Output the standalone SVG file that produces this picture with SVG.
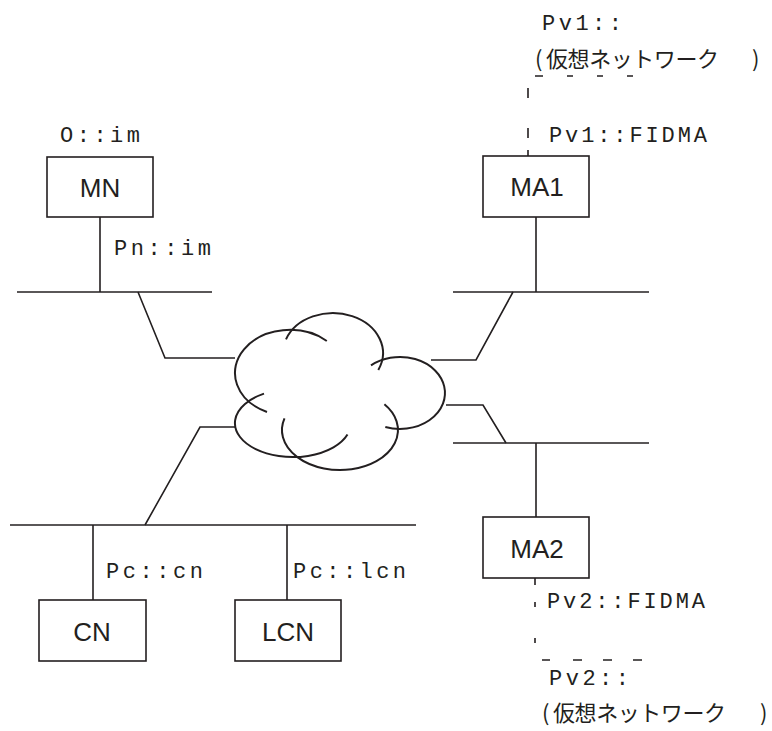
<svg xmlns="http://www.w3.org/2000/svg" width="772" height="731" viewBox="0 0 772 731">
<style>
.ln{stroke:#231f20;stroke-width:1.6;fill:none}
.bx{stroke:#231f20;stroke-width:1.6;fill:#fff}
.cl{stroke:#231f20;stroke-width:2;fill:none}
.nm{font-family:"Liberation Sans",Arial,sans-serif;font-size:26px;fill:#231f20;text-anchor:middle}
.lb{font-family:"Liberation Mono","Courier New",monospace;font-size:22px;fill:#231f20}
.jp{font-family:"Noto Sans CJK JP","Liberation Sans",sans-serif;font-size:22px;fill:#231f20}
</style>
<rect width="772" height="731" fill="#fff"/>
<g id="connectors">
<line class="ln" x1="17" y1="292" x2="212" y2="292"/>
<line class="ln" x1="100" y1="217" x2="100" y2="292"/>
<polyline class="ln" points="138,292 165,358 235,358"/>
<polyline class="ln" points="235,427 200,427 145,525"/>
<line class="ln" x1="10" y1="525" x2="416" y2="525"/>
<line class="ln" x1="93" y1="525" x2="93" y2="600"/>
<line class="ln" x1="287" y1="525" x2="287" y2="600"/>
<line class="ln" x1="453" y1="292" x2="649" y2="292"/>
<line class="ln" x1="536" y1="217" x2="536" y2="292"/>
<polyline class="ln" points="431,360 476,360 513,292"/>
<polyline class="ln" points="446,405 483,405 506,443"/>
<line class="ln" x1="453" y1="443" x2="649" y2="443"/>
<line class="ln" x1="536" y1="443" x2="536" y2="517"/>
<path class="ln" d="M528,88V98M528,128V138M528,150V156"/>
<path class="ln" d="M535,76H543M567,76H573M597,76H603M627,76H633"/>
<path class="ln" d="M535,578V585M535,602V607M535,638V643"/>
<path class="ln" d="M542,660H550M573,660H582M603,660H612M633,660H642"/>
</g>
<g id="cloud">
<path class="cl" d="M267,412 A55,43 0 1 1 326.8,341"/>
<path class="cl" d="M286,339.3 A50,40 0 1 1 378.3,369.9"/>
<path class="cl" d="M371,365.4 A45,36 0 1 1 385.3,427"/>
<path class="cl" d="M384.4,404.3 A58,40 0 1 1 284.5,418.3"/>
<path class="cl" d="M347.5,434.6 A58,34 0 1 1 264,393.6"/>
</g>
<g id="MN">
<rect class="bx" x="47" y="157" width="106" height="60"/>
<text class="nm" x="100" y="197">MN</text>
</g>
<g id="MA1">
<rect class="bx" x="483" y="156" width="106" height="61"/>
<text class="nm" x="537" y="196">MA1</text>
</g>
<g id="MA2">
<rect class="bx" x="483" y="517" width="106" height="61"/>
<text class="nm" x="537" y="558">MA2</text>
</g>
<g id="CN">
<rect class="bx" x="39" y="600" width="107" height="61"/>
<text class="nm" x="92" y="641">CN</text>
</g>
<g id="LCN">
<rect class="bx" x="235" y="600" width="106" height="61"/>
<text class="nm" x="288" y="641">LCN</text>
</g>
<g id="labels">
<text class="lb" x="60" y="142" textLength="80" lengthAdjust="spacing">O::im</text>
<text class="lb" x="114" y="255" textLength="97" lengthAdjust="spacing">Pn::im</text>
<text class="lb" x="542" y="30" textLength="80" lengthAdjust="spacing">Pv1::</text>
<text class="lb" x="549" y="142" textLength="158" lengthAdjust="spacing">Pv1::FIDMA</text>
<text class="lb" x="547" y="608" textLength="158" lengthAdjust="spacing">Pv2::FIDMA</text>
<text class="lb" x="549" y="685" textLength="80" lengthAdjust="spacing">Pv2::</text>
<text class="lb" x="106" y="578" textLength="97" lengthAdjust="spacing">Pc::cn</text>
<text class="lb" x="293" y="578" textLength="113" lengthAdjust="spacing">Pc::lcn</text>
<text class="jp" y="67"><tspan x="535">(</tspan><tspan x="546" textLength="173" lengthAdjust="spacing">仮想ネットワーク</tspan><tspan x="752">)</tspan></text>
<text class="jp" y="721"><tspan x="542">(</tspan><tspan x="553" textLength="173" lengthAdjust="spacing">仮想ネットワーク</tspan><tspan x="760">)</tspan></text>
</g>
</svg>
